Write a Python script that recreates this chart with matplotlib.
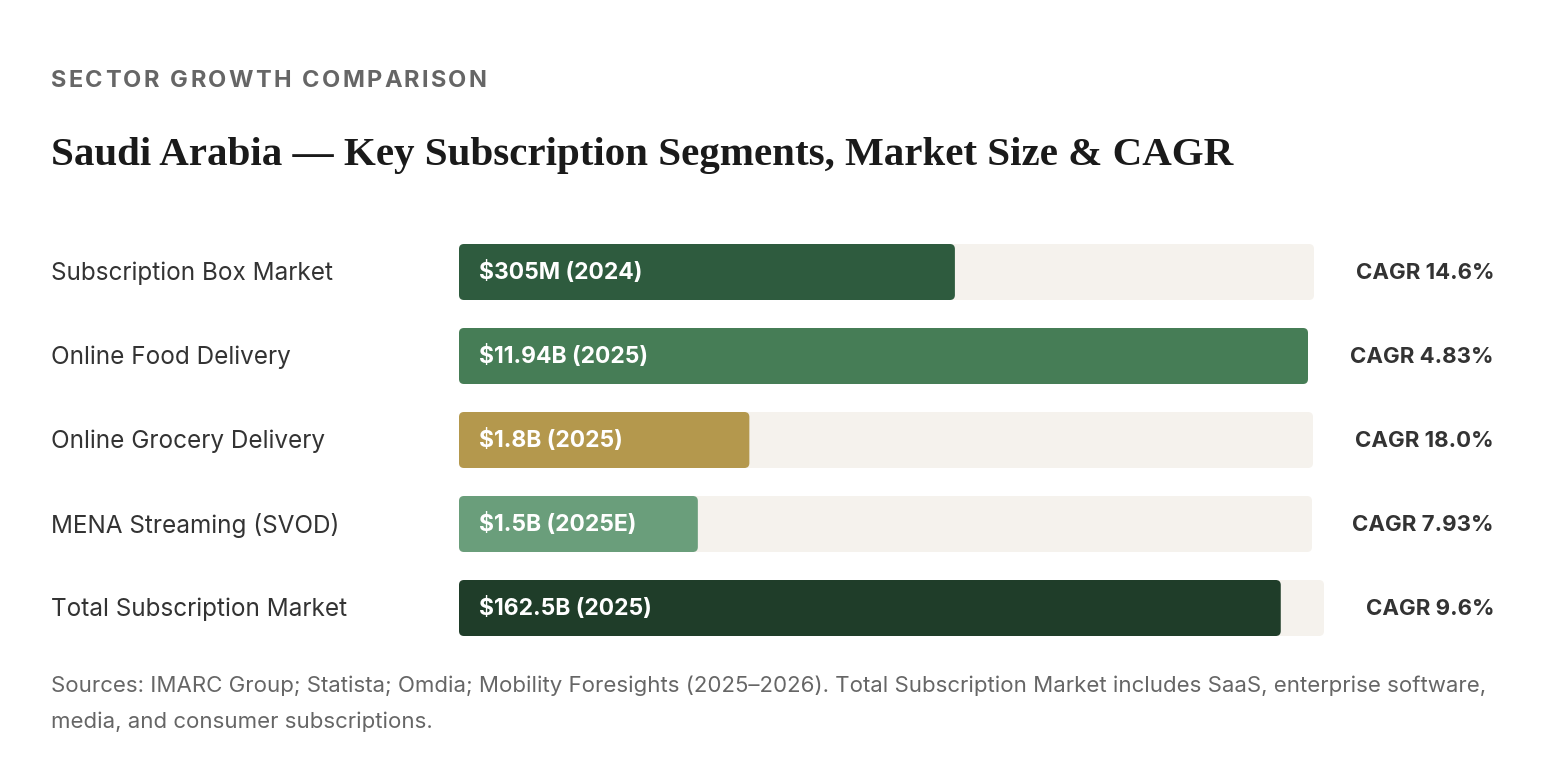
"""
Saudi Arabia subscription segments: market size bars with CAGR labels.
"""

import matplotlib

matplotlib.use("Agg")
import matplotlib.pyplot as plt
from matplotlib.patches import FancyBboxPatch

SEGMENTS = [
    "Subscription Box Market",
    "Online Food Delivery",
    "Online Grocery Delivery",
    "MENA Streaming (SVOD)",
    "Total Subscription Market",
]
SIZE_LABELS = ["$305M (2024)", "$11.94B (2025)", "$1.8B (2025)", "$1.5B (2025E)", "$162.5B (2025)"]
FILL_PCT = [58, 100, 34, 28, 95]
CAGR_LABELS = ["CAGR 14.6%", "CAGR 4.83%", "CAGR 18.0%", "CAGR 7.93%", "CAGR 9.6%"]

BAR_COLORS = ["#2e5b3e", "#467d56", "#b4984d", "#6a9e7b", "#1f3d29"]
TRACK_COLOR = "#f5f2ed"
TEXT_COLOR = "#333333"
MUTED_COLOR = "#666666"

SANS = ["Inter", "DejaVu Sans"]
SERIF = ["Liberation Serif", "DejaVu Serif"]

# layout in pixels (figure is 1542 x 782 at dpi 100)
WIDTH, HEIGHT = 1542, 782
LEFT = 51
TRACK_LEFT = 459
TRACK_RIGHT = [1314, 1308, 1313, 1312, 1324]
CAGR_RIGHT = 1494
ROW_TOP = 244
ROW_PITCH = 84
BAR_HEIGHT = 56


def spaced_text(figure, axis, x, y, text, spacing, fontsize, **kwargs):
    # matplotlib has no letter-spacing, so place glyphs one by one
    renderer = figure.canvas.get_renderer()
    space_advance = 0.27 * fontsize * 100 / 72
    for char in text:
        if char == " ":
            x += space_advance + spacing
            continue
        item = axis.text(x, y, char, fontsize=fontsize, **kwargs)
        x += item.get_window_extent(renderer).width + spacing


def main() -> None:
    plt.rcParams["font.family"] = SANS
    figure = plt.figure(figsize=(WIDTH / 100, HEIGHT / 100), dpi=100)
    axis = figure.add_axes([0, 0, 1, 1])
    axis.set_xlim(0, WIDTH)
    axis.set_ylim(HEIGHT, 0)
    axis.axis("off")

    spaced_text(figure, axis, LEFT, 81, "SECTOR GROWTH COMPARISON", 2.3, 17,
                fontweight="bold", color=MUTED_COLOR, va="center", ha="left")
    axis.text(LEFT, 156, "Saudi Arabia \u2014 Key Subscription Segments, Market Size & CAGR",
              fontsize=29.5, fontweight="bold", family=SERIF, color="#1a1a1a", va="center", ha="left")

    for index, segment in enumerate(SEGMENTS):
        top = ROW_TOP + index * ROW_PITCH
        center = top + BAR_HEIGHT / 2
        track_width = TRACK_RIGHT[index] - TRACK_LEFT
        fill_width = track_width * FILL_PCT[index] / 100

        axis.add_patch(FancyBboxPatch((TRACK_LEFT, top), track_width, BAR_HEIGHT,
                                      boxstyle="round,pad=0,rounding_size=5",
                                      facecolor=TRACK_COLOR, edgecolor="none"))
        axis.add_patch(FancyBboxPatch((TRACK_LEFT, top), fill_width, BAR_HEIGHT,
                                      boxstyle="round,pad=0,rounding_size=5",
                                      facecolor=BAR_COLORS[index], edgecolor="none"))

        axis.text(LEFT, center + 1, segment, fontsize=17.5, color=TEXT_COLOR, va="center", ha="left")
        axis.text(TRACK_LEFT + 20, center, SIZE_LABELS[index], fontsize=16.5, fontweight="bold",
                  color="white", va="center", ha="left")
        axis.text(CAGR_RIGHT, center + 1, CAGR_LABELS[index], fontsize=16, fontweight="bold",
                  color=TEXT_COLOR, va="center", ha="right")

    axis.text(LEFT, 686, "Sources: IMARC Group; Statista; Omdia; Mobility Foresights (2025\u20132026). "
              "Total Subscription Market includes SaaS, enterprise software,",
              fontsize=16, color=MUTED_COLOR, va="center", ha="left")
    axis.text(LEFT, 722, "media, and consumer subscriptions.",
              fontsize=16, color=MUTED_COLOR, va="center", ha="left")

    figure.savefig("out.png", dpi=100, facecolor="white")
    plt.close(figure)


if __name__ == "__main__":
    main()
